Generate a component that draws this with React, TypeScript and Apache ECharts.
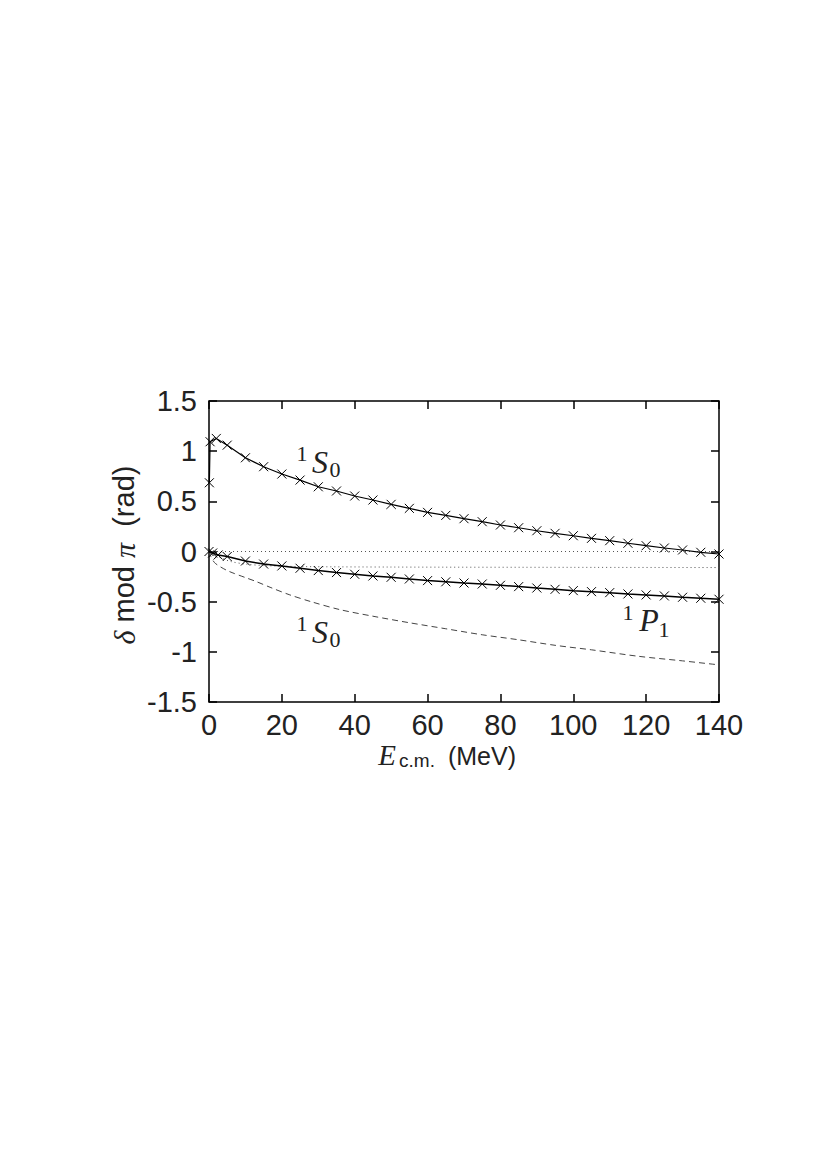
import React, { useEffect, useRef } from "react";
import * as echarts from "echarts";

// Energies (MeV) and phase shifts (rad)
const upperE = [0.1, 0.3, 2, 5, 10, 15, 20, 25, 30, 35, 40, 45, 50, 55, 60, 65, 70, 75, 80, 85, 90, 95, 100, 105, 110, 115, 120, 125, 130, 135, 140];
const upperS0 = [0.685, 1.094, 1.127, 1.06, 0.934, 0.845, 0.772, 0.712, 0.645, 0.603, 0.553, 0.513, 0.47, 0.43, 0.39, 0.36, 0.327, 0.297, 0.264, 0.237, 0.207, 0.181, 0.157, 0.131, 0.108, 0.082, 0.058, 0.035, 0.015, -0.008, -0.025];

const p1E = [0, 1, 2.5, 5, 10, 15, 20, 25, 30, 35, 40, 45, 50, 55, 60, 65, 70, 75, 80, 85, 90, 95, 100, 105, 110, 115, 120, 125, 130, 135, 140];
const p1 = [0, -0.015, -0.035, -0.05, -0.095, -0.125, -0.144, -0.167, -0.19, -0.21, -0.227, -0.244, -0.257, -0.274, -0.29, -0.302, -0.314, -0.324, -0.337, -0.35, -0.364, -0.377, -0.39, -0.4, -0.41, -0.423, -0.433, -0.443, -0.456, -0.466, -0.476];

const dashedE = [0, 0.5, 1.5, 3, 5, 7, 10, 13, 17, 22, 28, 36, 45, 55, 65, 75, 85, 95, 105, 118, 130, 140];
const dashedS0 = [0, -0.05, -0.11, -0.15, -0.19, -0.22, -0.26, -0.3, -0.36, -0.43, -0.5, -0.58, -0.645, -0.71, -0.77, -0.83, -0.88, -0.935, -0.98, -1.045, -1.09, -1.13];

const dottedE = [0, 3, 6, 10, 15, 25, 50, 100, 140];
const dotted = [0, -0.06, -0.1, -0.125, -0.14, -0.15, -0.155, -0.158, -0.16];

const zeroE = [0, 140];
const zero = [0, 0];

const xTicks = [0, 20, 40, 60, 80, 100, 120, 140];
const yTicks = [-1.5, -1, -0.5, 0, 0.5, 1, 1.5];

const pairs = (xs: number[], ys: number[]) => xs.map((x, i) => [x, ys[i]]);

const CROSS = "path://M0 0L10 10M10 0L0 10";
const SANS = "Liberation Sans";
const SERIF = "Liberation Serif";

export default function App() {
  const ref = useRef<HTMLDivElement>(null);
  useEffect(() => {
    const chart = echarts.init(ref.current as HTMLDivElement, null, { renderer: "svg" });
    const tickLabel = { fontFamily: SANS, fontSize: 29, color: "#222" };
    const crossItem = { color: "none", borderColor: "#000", borderWidth: 1 };
    const tick = { show: true, inside: true, length: 8, lineStyle: { color: "#000", width: 1.5 } };
    const noLine = { show: false, onZero: false };
    const txt = (x: number, y: number, s: string, size: number, family: string, italic = false) => ({
      type: "text",
      x,
      y,
      style: {
        text: s,
        fontSize: size,
        fontFamily: family,
        fontStyle: italic ? "italic" : "normal",
        fill: "#222",
        align: "center",
        verticalAlign: "middle",
      },
    });
    chart.setOption({
      animation: false,
      backgroundColor: "#fff",
      grid: { left: 209, right: 109, top: 401, bottom: 468, show: true, borderColor: "#000", borderWidth: 1.5, backgroundColor: "transparent" },
      xAxis: [
        {
          type: "value", min: xTicks[0], max: xTicks[xTicks.length - 1], interval: 20, position: "bottom",
          axisLine: noLine, splitLine: { show: false }, axisTick: tick,
          axisLabel: { ...tickLabel, margin: 8 },
        },
        {
          type: "value", min: 0, max: 140, interval: 20, position: "top",
          axisLine: noLine, splitLine: { show: false }, axisTick: tick,
          axisLabel: { show: false },
        },
      ],
      yAxis: [
        {
          type: "value", min: yTicks[0], max: yTicks[yTicks.length - 1], interval: 0.5, position: "left",
          axisLine: noLine, splitLine: { show: false }, axisTick: tick,
          axisLabel: { ...tickLabel, margin: 12 },
        },
        {
          type: "value", min: -1.5, max: 1.5, interval: 0.5, position: "right",
          axisLine: noLine, splitLine: { show: false }, axisTick: tick,
          axisLabel: { show: false },
        },
      ],
      series: [
        { type: "line", data: pairs(zeroE, zero), showSymbol: false, lineStyle: { color: "#555", width: 1, type: [1, 3] }, silent: true },
        { type: "line", data: pairs(dottedE, dotted), showSymbol: false, smooth: 0.3, lineStyle: { color: "#555", width: 1, type: [1, 3] }, silent: true },
        { type: "line", data: pairs(dashedE, dashedS0), showSymbol: false, smooth: 0.3, lineStyle: { color: "#444", width: 1, type: [6, 4] }, silent: true },
        { type: "line", data: pairs(upperE, upperS0), symbol: CROSS, symbolSize: 9, showAllSymbol: true, itemStyle: crossItem, lineStyle: { color: "#000", width: 1.2 }, silent: true },
        { type: "line", data: pairs(p1E, p1), symbol: CROSS, symbolSize: 9, showAllSymbol: true, itemStyle: crossItem, lineStyle: { color: "#000", width: 1.5 }, silent: true },
      ],
      graphic: [
        // upper 1S0 label
        txt(302, 453, "1", 22, SERIF),
        txt(320, 462, "S", 32, SERIF, true),
        txt(335, 469, "0", 22, SERIF),
        // lower 1S0 label
        txt(302, 623, "1", 22, SERIF),
        txt(320, 632, "S", 32, SERIF, true),
        txt(335, 639, "0", 22, SERIF),
        // 1P1 label
        txt(628, 612, "1", 22, SERIF),
        txt(649, 620, "P", 32, SERIF, true),
        txt(664, 629, "1", 22, SERIF),
        // x axis title
        txt(387, 755, "E", 29, SERIF, true),
        txt(417, 760, "c.m.", 19, SANS),
        txt(482, 756, "(MeV)", 25, SANS),
        // y axis title
        {
          type: "text",
          x: 124,
          y: 555,
          rotation: Math.PI / 2,
          style: {
            text: "{g|δ} mod {g|π}  (rad)",
            fontSize: 29,
            fontFamily: SANS,
            fill: "#222",
            align: "center",
            verticalAlign: "middle",
            rich: {
              g: { fontSize: 30, fontFamily: SERIF, fontStyle: "italic", fill: "#222" },
            },
          },
        },
      ],
    });
    return () => chart.dispose();
  }, []);
  return <div ref={ref} style={{ position: "absolute", left: 0, top: 0, width: 828, height: 1170, background: "#fff" }} />;
}
